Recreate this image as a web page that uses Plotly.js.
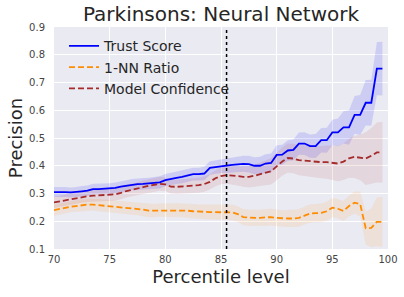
<!DOCTYPE html>
<html>
<head>
<meta charset="utf-8">
<script src="https://cdn.plot.ly/plotly-3.0.1.min.js"></script>
<style>html,body{margin:0;padding:0;background:#fff;}#chart{width:404px;height:297px;}</style>
</head>
<body>
<div id="chart"></div>
<script>
const percentiles = [70,70.5,71,71.5,72,72.5,73,73.5,74,74.5,75,75.5,76,76.5,77,77.5,78,78.5,79,79.5,
  80,80.5,81,81.5,82,82.5,83,83.5,84,84.5,85,85.5,86,86.5,87,87.5,88,88.5,89,89.5,
  90,90.5,91,91.5,92,92.5,93,93.5,94,94.5,95,95.5,96,96.5,97,97.5,98,98.5,99,99.5];

const trustScore = [0.305,0.306,0.305,0.304,0.305,0.308,0.310,0.316,0.316,0.317,0.317,0.320,0.325,0.328,0.332,0.334,0.335,0.336,0.338,0.340,
  0.348,0.353,0.356,0.360,0.365,0.370,0.370,0.372,0.392,0.395,0.399,0.400,0.403,0.405,0.407,0.406,0.400,0.400,0.408,0.410,
  0.439,0.440,0.455,0.457,0.480,0.480,0.471,0.471,0.492,0.492,0.520,0.520,0.538,0.538,0.583,0.583,0.627,0.627,0.750,0.750];
const trustErr = [0.018,0.018,0.018,0.018,0.018,0.019,0.019,0.019,0.019,0.019,0.020,0.020,0.020,0.020,0.020,0.021,0.021,0.021,0.021,0.022,
  0.022,0.022,0.022,0.023,0.023,0.023,0.023,0.024,0.024,0.024,0.025,0.026,0.027,0.028,0.029,0.030,0.031,0.032,0.033,0.034,
  0.035,0.036,0.037,0.038,0.040,0.041,0.042,0.043,0.044,0.045,0.046,0.050,0.058,0.062,0.068,0.072,0.082,0.083,0.096,0.097];

const nnRatio = [0.240,0.245,0.248,0.252,0.255,0.258,0.260,0.260,0.258,0.256,0.254,0.253,0.250,0.248,0.247,0.245,0.242,0.238,0.238,0.240,
  0.240,0.240,0.240,0.239,0.238,0.236,0.234,0.234,0.233,0.233,0.233,0.234,0.232,0.226,0.215,0.213,0.212,0.212,0.214,0.215,
  0.212,0.210,0.210,0.210,0.212,0.220,0.228,0.229,0.230,0.236,0.249,0.245,0.237,0.255,0.267,0.262,0.175,0.176,0.198,0.198];
const nnErr = [0.020,0.020,0.020,0.020,0.021,0.021,0.021,0.021,0.022,0.022,0.022,0.022,0.023,0.023,0.023,0.023,0.024,0.024,0.024,0.024,
  0.025,0.025,0.025,0.025,0.026,0.026,0.026,0.026,0.027,0.027,0.028,0.028,0.028,0.028,0.029,0.029,0.029,0.029,0.030,0.030,
  0.030,0.030,0.031,0.031,0.032,0.032,0.033,0.033,0.034,0.034,0.035,0.035,0.036,0.038,0.040,0.045,0.060,0.070,0.088,0.090];

const modelConf = [0.268,0.272,0.276,0.280,0.284,0.288,0.290,0.292,0.293,0.294,0.295,0.297,0.302,0.309,0.313,0.317,0.323,0.328,0.332,0.335,
  0.333,0.325,0.324,0.325,0.326,0.328,0.330,0.334,0.342,0.355,0.363,0.366,0.365,0.363,0.360,0.360,0.364,0.369,0.374,0.380,
  0.398,0.415,0.428,0.426,0.420,0.418,0.415,0.413,0.413,0.413,0.410,0.408,0.415,0.427,0.432,0.430,0.426,0.436,0.448,0.449];
const confErr = [0.020,0.020,0.020,0.021,0.021,0.021,0.021,0.022,0.022,0.022,0.022,0.022,0.023,0.023,0.023,0.023,0.024,0.024,0.024,0.025,
  0.025,0.025,0.026,0.026,0.026,0.027,0.027,0.028,0.028,0.029,0.030,0.031,0.032,0.034,0.036,0.038,0.040,0.042,0.045,0.048,
  0.050,0.051,0.052,0.053,0.054,0.055,0.056,0.057,0.058,0.060,0.062,0.064,0.066,0.070,0.076,0.082,0.095,0.100,0.108,0.110];

const threshold = 85.5;
const seriesNames = ["Trust Score", "1-NN Ratio", "Model Confidence"];

function band(y, e, color) {
  const up = y.map((v, i) => v + e[i]);
  const lo = y.map((v, i) => v - e[i]);
  return [
    {x: percentiles, y: lo, mode: "lines", line: {width: 0}, showlegend: false, hoverinfo: "skip"},
    {x: percentiles, y: up, mode: "lines", line: {width: 0}, fill: "tonexty", fillcolor: color, showlegend: false, hoverinfo: "skip"}
  ];
}

const data = [
  ...band(trustScore, trustErr, "rgba(0,0,255,0.12)"),
  ...band(nnRatio, nnErr, "rgba(255,140,0,0.10)"),
  ...band(modelConf, confErr, "rgba(165,42,42,0.10)"),
  {x: percentiles, y: trustScore, name: seriesNames[0], mode: "lines", line: {color: "#0000ff", width: 1.8}},
  {x: percentiles, y: nnRatio, name: seriesNames[1], mode: "lines", line: {color: "#ff8c00", width: 1.8, dash: "6px,3px"}},
  {x: percentiles, y: modelConf, name: seriesNames[2], mode: "lines", line: {color: "#a52a2a", width: 1.8, dash: "6px,3px"}}
];

const font = "DejaVu Sans, sans-serif";
const layout = {
  width: 404, height: 297,
  margin: {l: 54, r: 16, t: 27, b: 48},
  paper_bgcolor: "#ffffff",
  plot_bgcolor: "#eaeaf2",
  font: {family: font, color: "#262626"},
  title: {text: "Parkinsons: Neural Network", font: {family: font, size: 20, color: "#262626"}, x: 0.547, xanchor: "center", y: 0.978, yanchor: "top"},
  xaxis: {
    range: [70, 100], tickvals: [70,75,80,85,90,95,100], ticktext: ["70","75","80","85","90","95","100"],
    showgrid: true, gridcolor: "#ffffff", gridwidth: 1, zeroline: false, showline: false,
    ticks: "", tickfont: {size: 10, color: "#444"}, ticklabelstandoff: 3,
    title: {text: "Percentile level", font: {size: 18, color: "#262626"}, standoff: 6}
  },
  yaxis: {
    range: [0.1, 0.9], tickvals: [0.1,0.2,0.3,0.4,0.5,0.6,0.7,0.8,0.9], ticktext: ["0.1","0.2","0.3","0.4","0.5","0.6","0.7","0.8","0.9"],
    showgrid: true, gridcolor: "#ffffff", gridwidth: 1, zeroline: false, showline: false,
    ticks: "", tickfont: {size: 10, color: "#444"}, ticklabelstandoff: 8,
    title: {text: "Precision", font: {size: 18, color: "#262626"}, standoff: 1}
  },
  legend: {x: 0.03, y: 0.985, xanchor: "left", yanchor: "top", traceorder: "normal", bgcolor: "rgba(0,0,0,0)", font: {size: 14, color: "#262626"}, tracegroupgap: 0},
  shapes: [{type: "line", xref: "x", yref: "paper", x0: threshold, x1: threshold, y0: 0, y1: 1, line: {color: "#000", width: 1.5, dash: "dot"}}],
  showlegend: true
};

Plotly.newPlot("chart", data, layout, {displayModeBar: false, staticPlot: true});
</script>
</body>
</html>
